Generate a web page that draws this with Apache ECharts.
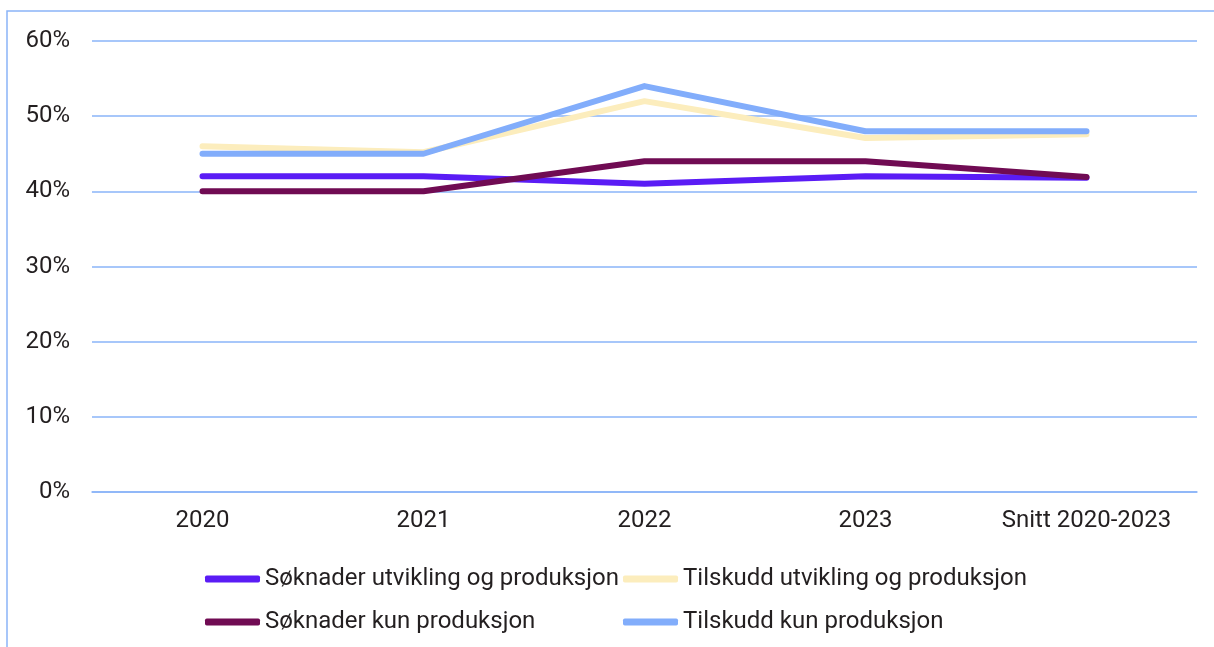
<!DOCTYPE html>
<html>
<head>
<meta charset="utf-8">
<script src="https://cdn.jsdelivr.net/npm/echarts@6/dist/echarts.min.js"></script>
<style>
html,body{margin:0;padding:0;background:#fff;}
#chart{width:1214px;height:647px;}
</style>
</head>
<body>
<div id="chart"></div>
<script>
var categories = ['2020', '2021', '2022', '2023', 'Snitt 2020-2023'];
var seriesNames = ['Søknader utvikling og produksjon', 'Tilskudd utvikling og produksjon', 'Søknader kun produksjon', 'Tilskudd kun produksjon'];
var soknaderUtvikling = [42, 42, 41, 42, 41.8];
var tilskuddUtvikling = [46, 45.2, 52, 47.1, 47.6];
var soknaderKun = [40, 40, 44, 44, 41.9];
var tilskuddKun = [45, 45, 54, 48, 48];
var yTicks = [0, 10, 20, 30, 40, 50, 60];

var colors = ['#5A1CF5', '#FCEDBD', '#700B53', '#82ADFB'];
var font = 'Roboto, "Noto Sans", sans-serif';
var textColor = '#231F20';

var chart = echarts.init(document.getElementById('chart'), null, {renderer: 'canvas'});

function mkSeries(name, data, color) {
  return {
    name: name, type: 'line', data: data,
    symbol: 'none', smooth: false,
    lineStyle: {color: color, width: 6, cap: 'round', join: 'round'},
    itemStyle: {color: color},
    emphasis: {disabled: true}
  };
}

function mkLegend(left, names) {
  return {
    show: true,
    type: 'plain',
    orient: 'vertical',
    left: left,
    top: 562,
    itemWidth: 55,
    itemHeight: 7,
    itemGap: 19,
    icon: 'roundRect',
    itemStyle: {borderWidth: 0},
    data: names,
    textStyle: {fontFamily: font, fontSize: 24, color: textColor},
    selectedMode: false
  };
}

chart.setOption({
  animation: false,
  color: colors,
  graphic: [{
    type: 'rect',
    shape: {x: 7, y: 11, width: 1400, height: 1000},
    style: {fill: 'none', stroke: '#8AB4F8', lineWidth: 1.5},
    silent: true
  }],
  grid: {left: 92, right: 17, top: 41, bottom: 155, containLabel: false},
  legend: [
    mkLegend(200, [seriesNames[0], seriesNames[2]]),
    mkLegend(618, [seriesNames[1], seriesNames[3]])
  ],
  xAxis: {
    type: 'category',
    data: categories,
    boundaryGap: true,
    axisLine: {show: true, lineStyle: {color: '#8AB4F8', width: 1.5}},
    axisTick: {show: false},
    axisLabel: {fontFamily: font, fontSize: 24, color: textColor, margin: 17}
  },
  yAxis: {
    type: 'value',
    min: 0, max: 60, interval: 10,
    axisLine: {show: false},
    axisTick: {show: false},
    splitLine: {show: true, lineStyle: {color: '#8AB4F8', width: 1.5}},
    axisLabel: {
      fontFamily: font, fontSize: 24, color: textColor, margin: 22,
      formatter: function (v) { return yTicks.indexOf(v) >= 0 ? v + '%' : ''; }
    }
  },
  series: [
    mkSeries(seriesNames[0], soknaderUtvikling, colors[0]),
    mkSeries(seriesNames[1], tilskuddUtvikling, colors[1]),
    mkSeries(seriesNames[2], soknaderKun, colors[2]),
    mkSeries(seriesNames[3], tilskuddKun, colors[3])
  ]
});
</script>
</body>
</html>
